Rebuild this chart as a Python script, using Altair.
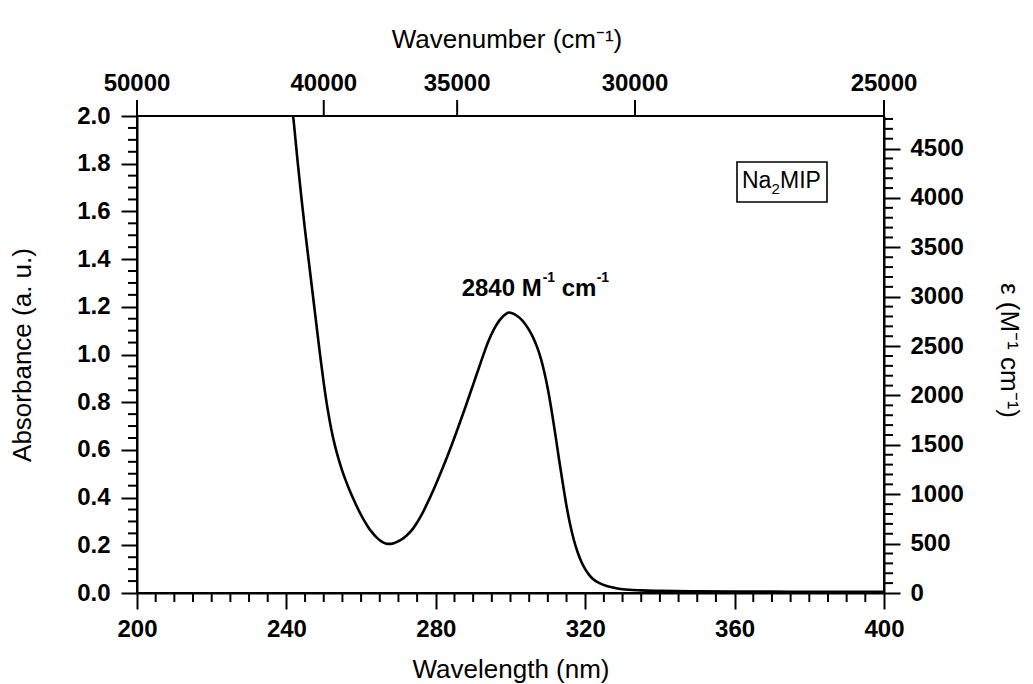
import altair as alt
import pandas as pd

# UV absorption spectrum of Na2MIP (absorbance vs wavelength)
wavelength_nm = [241.0, 242, 243, 244, 245, 246, 247, 248, 249, 250,
                 251, 252, 253, 254, 255, 256, 257, 258, 259, 260,
                 261, 262, 263, 264, 265, 266, 267, 268, 270, 272,
                 274, 276, 278, 280, 282, 284, 286, 288, 290, 292,
                 293, 294, 295, 296, 297, 298, 299, 299.5, 300, 301,
                 302, 303, 304, 305, 306, 307, 308, 309, 310, 311,
                 312, 313, 314, 315, 316, 317, 318, 319, 320, 321,
                 322, 324, 326, 328, 330, 335, 340, 350, 360, 370,
                 380, 390, 400]
absorbance = [2.12, 1.97, 1.81, 1.66, 1.52, 1.39, 1.26, 1.13, 1.00, 0.88,
              0.775, 0.688, 0.618, 0.56, 0.51, 0.467, 0.428, 0.392, 0.358, 0.327,
              0.299, 0.274, 0.253, 0.235, 0.221, 0.211, 0.206, 0.206, 0.217, 0.238,
              0.272, 0.322, 0.385, 0.455, 0.53, 0.61, 0.695, 0.783, 0.874, 0.965,
              1.010, 1.052, 1.088, 1.118, 1.142, 1.160, 1.172, 1.176, 1.175, 1.169,
              1.159, 1.145, 1.126, 1.102, 1.073, 1.036, 0.990, 0.930, 0.855, 0.765,
              0.665, 0.560, 0.460, 0.365, 0.285, 0.220, 0.170, 0.130, 0.100, 0.077,
              0.060, 0.040, 0.028, 0.021, 0.016, 0.011, 0.009, 0.007, 0.006, 0.006,
              0.005, 0.005, 0.005]

# axis ticks
wl_major = [200, 240, 280, 320, 360, 400]
abs_major = [0.0, 0.2, 0.4, 0.6, 0.8, 1.0, 1.2, 1.4, 1.6, 1.8, 2.0]
eps_major = [0, 500, 1000, 1500, 2000, 2500, 3000, 3500, 4000, 4500]
wavenumber_ticks = [50000, 40000, 35000, 30000, 25000]
wl_minor = [w for w in range(205, 400, 5) if w % 40 != 0]
abs_minor = [i / 100 for i in range(5, 200, 5) if i % 20 != 0]
eps_minor = [e for e in range(100, 4900, 100) if e % 500 != 0]

ABS_DOMAIN = [0, 2.0]
EPS_DOMAIN = [0, 4830]
WL_DOMAIN = [200, 400]
PEAK_WL = 299.5
PEAK_EPS = 2840

W, H = 747, 477
FONT = "Liberation Sans"

xs = alt.Scale(domain=WL_DOMAIN, nice=False)
ys_abs = alt.Scale(domain=ABS_DOMAIN, nice=False)
ys_eps = alt.Scale(domain=EPS_DOMAIN, nice=False)

# one shared bottom axis definition, reused by every layer on the x scale
x_axis = alt.Axis(
    values=wl_major, format="d", title="Wavelength (nm)",
    tickSize=16, labelPadding=8, labelFlush=False,
    titleX=W / 2, titleY=84, titleAlign="center", titleBaseline="alphabetic",
)


def xenc(field="wl"):
    return alt.X(f"{field}:Q", scale=xs, axis=x_axis)


spectrum = pd.DataFrame({"wl": wavelength_nm, "A": absorbance})

curve = alt.Chart(spectrum).mark_line(
    color="black", strokeWidth=2.6, clip=True, interpolate="monotone"
).encode(
    x=xenc(),
    y=alt.Y("A:Q", scale=ys_abs, axis=alt.Axis(
        values=abs_major, format=".1f", title="Absorbance (a. u.)",
        tickSize=16, labelPadding=11, labelFlush=False,
        titleX=-115, titleY=H / 2, titleAngle=-90,
        titleAlign="center", titleBaseline="middle")),
)

# right-hand molar absorptivity axis with its minor ticks
right_axis = alt.Chart(pd.DataFrame({"eps": eps_minor})).mark_rule(
    color="black", strokeWidth=2
).encode(
    y=alt.Y("eps:Q", scale=ys_eps, axis=alt.Axis(
        orient="right", values=eps_major, format="d",
        title="ε (M⁻¹ cm⁻¹)", tickSize=16, labelPadding=10, labelFlush=False,
        titleX=124, titleY=234, titleAngle=90,
        titleAlign="center", titleBaseline="middle")),
    x=alt.value(W), x2=alt.value(W + 9),
)

left_minor = alt.Chart(pd.DataFrame({"a": abs_minor})).mark_rule(
    color="black", strokeWidth=2
).encode(
    y=alt.Y("a:Q", scale=ys_abs, axis=None),
    x=alt.value(0), x2=alt.value(-9),
)

bottom_minor = alt.Chart(pd.DataFrame({"wl": wl_minor})).mark_rule(
    color="black", strokeWidth=2
).encode(
    x=xenc(),
    y=alt.value(H), y2=alt.value(H + 9),
)

# top wavenumber axis: positions come from 1e7 / wavenumber
top_base = alt.Chart(pd.DataFrame({"wn": wavenumber_ticks})).transform_calculate(
    wl="1e7 / datum.wn"
)
top_ticks = top_base.mark_rule(color="black", strokeWidth=2).encode(
    x=xenc(),
    y=alt.value(0), y2=alt.value(-16),
)
top_labels = top_base.mark_text(
    font=FONT, fontSize=24, fontWeight="bold", color="black",
    align="center", baseline="alphabetic",
).encode(
    x=xenc(),
    y=alt.value(-25),
    text=alt.Text("wn:Q", format="d"),
)

one = pd.DataFrame({"k": [0]})
top_title = alt.Chart(one).mark_text(
    font=FONT, fontSize=26, color="black", align="center", baseline="alphabetic"
).encode(x=alt.value(370), y=alt.value(-68), text=alt.value("Wavenumber (cm⁻¹)"))

# peak annotation, anchored on the band maximum
peak = pd.DataFrame({"wl": [PEAK_WL], "eps": [PEAK_EPS]})
peak_parts = [
    ("2840 M", -47, -17, 24),
    ("-1", 34, -31, 14),
    ("cm", 53, -17, 24),
    ("-1", 88, -31, 14),
]
peak_layers = [
    alt.Chart(peak).mark_text(
        font=FONT, fontSize=size, fontWeight="bold", color="black",
        align="left", baseline="alphabetic", dx=dx, dy=dy,
    ).encode(
        x=xenc(),
        y=alt.Y("eps:Q", scale=ys_eps, axis=None),
        text=alt.value(txt),
    )
    for txt, dx, dy, size in peak_parts
]

# compound label in a box
box = alt.Chart(one).mark_rect(fill="white", stroke="black", strokeWidth=1.6).encode(
    x=alt.value(600), x2=alt.value(690), y=alt.value(46), y2=alt.value(86)
)
label_parts = [
    ("Na", 605, 72, 23),
    ("2", 634.5, 78, 15),
    ("MIP", 643, 72, 23),
]
label_layers = [
    alt.Chart(one).mark_text(
        font=FONT, fontSize=size, color="black", align="left", baseline="alphabetic"
    ).encode(x=alt.value(x), y=alt.value(y), text=alt.value(txt))
    for txt, x, y, size in label_parts
]

chart = alt.layer(
    curve, right_axis, left_minor, bottom_minor, top_ticks, top_labels, top_title,
    *peak_layers, box, *label_layers,
).resolve_scale(y="independent").properties(
    width=W, height=H,
    padding={"left": 137, "top": 116, "right": 149, "bottom": 91},
    autosize=alt.AutoSizeParams(type="none"),
).configure_view(
    stroke="black", strokeWidth=2
).configure_axis(
    grid=False, domainColor="black", domainWidth=2,
    tickColor="black", tickWidth=2,
    labelFont=FONT, labelFontSize=24, labelFontWeight="bold", labelColor="black",
    labelOverlap=False,
    titleFont=FONT, titleFontSize=26, titleFontWeight="normal", titleColor="black",
)

chart.save("out.html", embed_options={"renderer": "svg", "actions": False})
